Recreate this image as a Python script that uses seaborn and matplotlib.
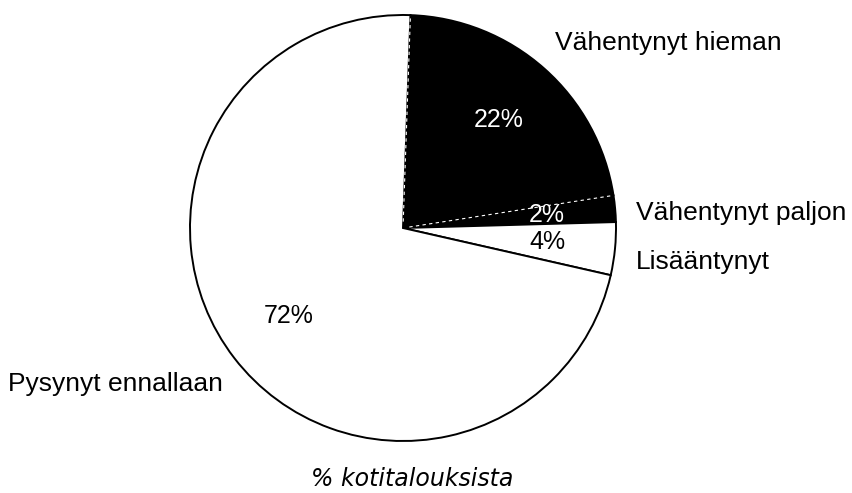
import numpy as np
import matplotlib
matplotlib.use("Agg")
import matplotlib.pyplot as plt
import seaborn as sns

# Kotitalouksien osuudet (%)
luokat = ["Vähentynyt hieman", "Vähentynyt paljon", "Lisääntynyt", "Pysynyt ennallaan"]
osuudet = [22, 2, 4, 72]
varit = ["black", "black", "white", "white"]
pct_varit = ["white", "white", "black", "black"]
# nimien paikat kuvassa (pikseleinä)
nimi_paikat = [(555, 43), (636, 213), (636, 262), (8, 384)]

sns.set_theme(style="white")
plt.rcParams['font.family'] = ['Liberation Sans', 'DejaVu Sans']
plt.rcParams['text.color'] = 'black'

fig = plt.figure(figsize=(8.52, 4.93), dpi=100)
W, H = 852, 493
cx, cy, r = 403, 228, 213
ax = fig.add_axes([(cx - r) / W, (H - cy - r) / H, 2 * r / W, 2 * r / H])

wedges, texts, autotexts = ax.pie(
    osuudet, colors=varit, startangle=88, counterclock=False,
    autopct=lambda p: f"{p:.0f}%", pctdistance=0.68,
    wedgeprops=dict(edgecolor="black", linewidth=1.4),
    textprops=dict(fontsize=18))

for i, t in enumerate(autotexts):
    t.set_color(pct_varit[i])

# valkoinen katkoviiva mustien sektorien saumassa
for th in (wedges[0].theta1, wedges[0].theta2):
    a = np.deg2rad(th)
    ax.plot([0.03 * np.cos(a), 0.99 * np.cos(a)], [0.03 * np.sin(a), 0.99 * np.sin(a)],
            color="white", lw=0.8, ls=(0, (3, 3)))

ax.set_xlim(-1.0, 1.0)
ax.set_ylim(-1.0, 1.0)
ax.set_aspect("equal")
ax.axis("off")

for nimi, (x, y) in zip(luokat, nimi_paikat):
    fig.text(x / W, 1 - y / H, nimi, fontsize=19, ha="left", va="center", color="black")

fig.text(412 / W, 1 - 479 / H, "% kotitalouksista", fontsize=17, style="italic",
         family="DejaVu Sans", ha="center", va="center", color="black")

fig.savefig("out.png", dpi=100, facecolor="white")
